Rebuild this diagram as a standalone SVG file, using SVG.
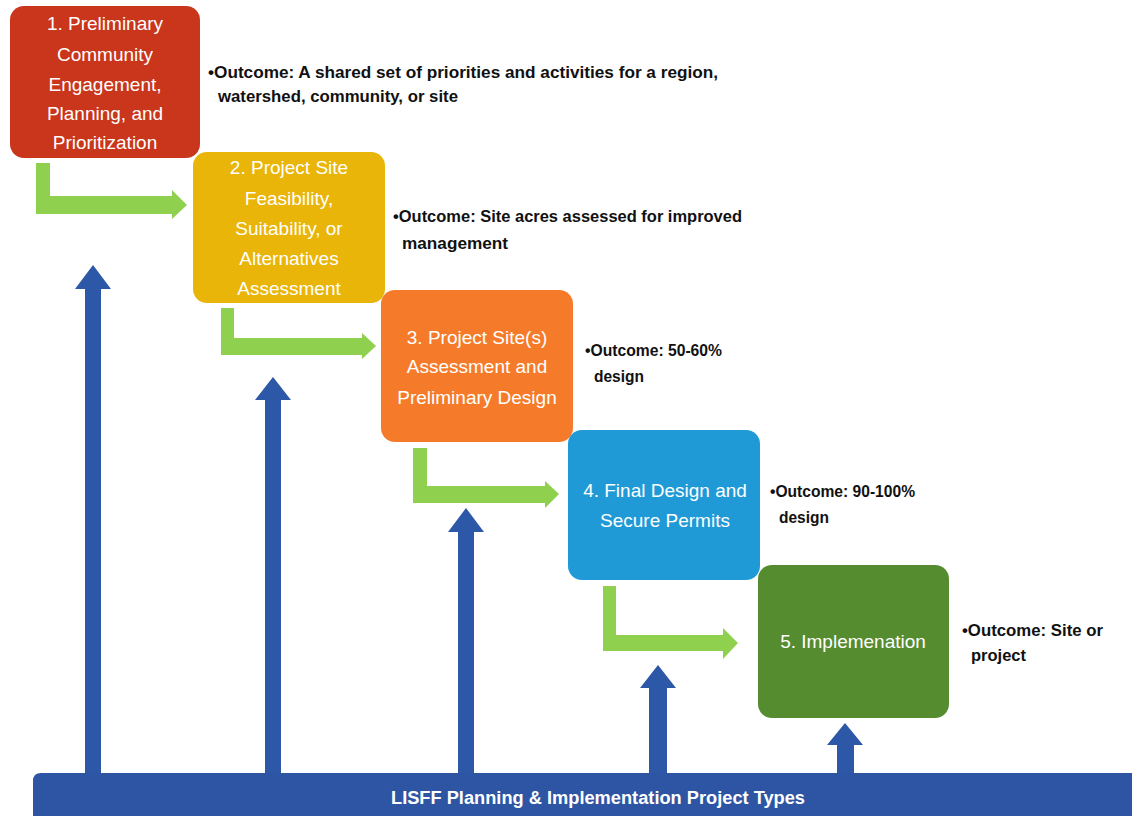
<svg xmlns="http://www.w3.org/2000/svg" width="1132" height="816" viewBox="0 0 1132 816">
<defs>
<style>
.box{stroke:none}
.bt{font-family:"Liberation Sans",Arial,sans-serif;font-size:19px;fill:#ffffff;text-anchor:middle}
.ot{font-family:"Liberation Sans",Arial,sans-serif;font-size:16.5px;font-weight:bold;fill:#111111}
.green{fill:#8fd14f}
.blue{fill:#2d58a7}
</style>
</defs>
<rect width="1132" height="816" fill="#ffffff"/>
<g id="connectors">
<g id="blue-arrows" class="blue">
<polygon points="85,780 85,289 75,289 93,265 111,289 101,289 101,780"/>
<polygon points="265,780 265,400 255,400 273,377 291,400 281,400 281,780"/>
<polygon points="458,780 458,532 448,532 466,508 484,532 474,532 474,780"/>
<polygon points="649,780 649,688 640,688 658,665 676,688 667,688 667,780"/>
<polygon points="837,780 837,745 827,745 845,723 863,745 854,745 854,780"/>
</g>
<g id="green-arrows" class="green">
<polygon points="36,163 50,163 50,196 172,196 172,190 187,205 172,219 172,214 36,214"/>
<polygon points="221,308 234,308 234,338 362,338 362,333 376,346 362,359 362,355 221,355"/>
<polygon points="413,448 427,448 427,486 545,486 545,481 559,494 545,508 545,503 413,503"/>
<polygon points="603,586 616,586 616,635 723,635 723,628 738,643 723,659 723,651 603,651"/>
</g>
</g>
<g id="bar">
<path d="M33,781 Q33,773 41,773 L1132,773 L1132,816 L33,816 Z" fill="#2d55a3"/>
<text x="598" y="804" font-family="'Liberation Sans',Arial,sans-serif" font-size="18" font-weight="bold" fill="#ffffff" text-anchor="middle" textLength="414" lengthAdjust="spacingAndGlyphs">LISFF Planning &amp; Implementation Project Types</text>
</g>
<g id="node1">
<rect class="box" x="10" y="6" width="190" height="152" rx="14" fill="#c9361b"/>
<text class="bt" x="105" y="30">1. Preliminary</text>
<text class="bt" x="105" y="61">Community</text>
<text class="bt" x="105" y="91">Engagement,</text>
<text class="bt" x="105" y="120">Planning, and</text>
<text class="bt" x="105" y="149">Prioritization</text>
<text class="ot" x="208" y="78" textLength="510" lengthAdjust="spacingAndGlyphs">•Outcome: A shared set of priorities and activities for a region,</text>
<text class="ot" x="218" y="102" textLength="240" lengthAdjust="spacingAndGlyphs">watershed, community, or site</text>
</g>
<g id="node2">
<rect class="box" x="193" y="152" width="192" height="151" rx="14" fill="#e9b508"/>
<text class="bt" x="289" y="174" fill="#fdf3cc">2. Project Site</text>
<text class="bt" x="289" y="205">Feasibility,</text>
<text class="bt" x="289" y="235">Suitability, or</text>
<text class="bt" x="289" y="265">Alternatives</text>
<text class="bt" x="289" y="295">Assessment</text>
<text class="ot" x="393" y="222" textLength="349" lengthAdjust="spacingAndGlyphs">•Outcome: Site acres assessed for improved</text>
<text class="ot" x="402" y="249" textLength="106" lengthAdjust="spacingAndGlyphs">management</text>
</g>
<g id="node3">
<rect class="box" x="381" y="290" width="192" height="152" rx="14" fill="#f57b2a"/>
<text class="bt" x="477" y="344">3. Project Site(s)</text>
<text class="bt" x="477" y="373">Assessment and</text>
<text class="bt" x="477" y="404">Preliminary Design</text>
<text class="ot" x="585" y="356" textLength="137" lengthAdjust="spacingAndGlyphs">•Outcome: 50-60%</text>
<text class="ot" x="594" y="382" textLength="50" lengthAdjust="spacingAndGlyphs">design</text>
</g>
<g id="node4">
<rect class="box" x="568" y="430" width="192" height="150" rx="14" fill="#1f9ad6"/>
<text class="bt" x="665" y="497">4. Final Design and</text>
<text class="bt" x="665" y="527">Secure Permits</text>
<text class="ot" x="770" y="497" textLength="145" lengthAdjust="spacingAndGlyphs">•Outcome: 90-100%</text>
<text class="ot" x="779" y="523" textLength="50" lengthAdjust="spacingAndGlyphs">design</text>
</g>
<g id="node5">
<rect class="box" x="758" y="565" width="191" height="153" rx="14" fill="#558c2f"/>
<text class="bt" x="853" y="648">5. Implemenation</text>
<text class="ot" x="962" y="636" textLength="141" lengthAdjust="spacingAndGlyphs">•Outcome: Site or</text>
<text class="ot" x="971" y="661" textLength="55" lengthAdjust="spacingAndGlyphs">project</text>
</g>
</svg>
